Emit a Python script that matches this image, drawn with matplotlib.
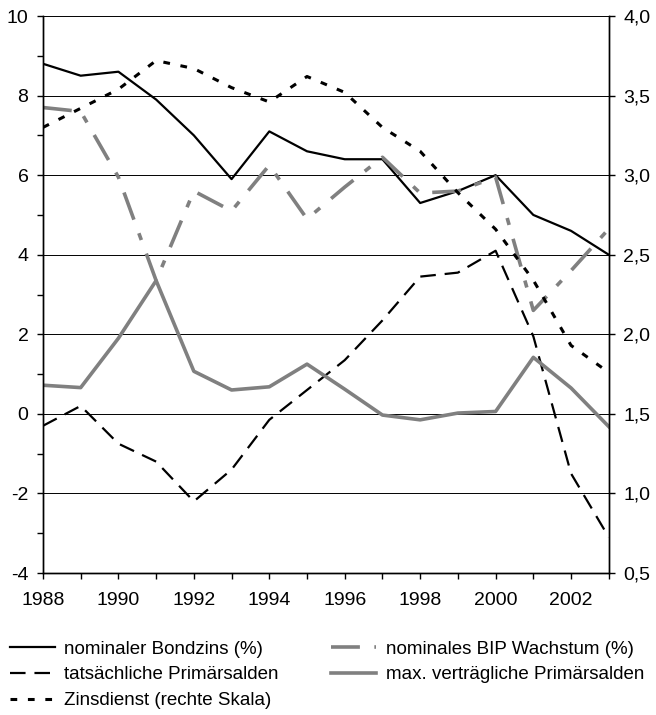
import numpy as np
import matplotlib.pyplot as plt
from matplotlib.ticker import MultipleLocator, FuncFormatter

# Daten
years = np.arange(1988, 2004)
bondzins = [8.8, 8.5, 8.6, 7.9, 7.0, 5.9, 7.1, 6.6, 6.4, 6.4, 5.3, 5.6, 6.0, 5.0, 4.6, 4.0]
bip_wachstum = [7.7, 7.6, 5.95, 3.35, 5.6, 5.1, 6.25, 4.9, 5.7, 6.45, 5.55, 5.6, 5.95, 2.6, 3.6, 4.65]
prim_tats = [-0.3, 0.2, -0.75, -1.2, -2.2, -1.4, -0.15, 0.6, 1.35, 2.35, 3.45, 3.55, 4.1, 1.95, -1.5, -3.1]
prim_max = [0.72, 0.66, 1.9, 3.35, 1.07, 0.6, 0.68, 1.25, 0.62, -0.03, -0.15, 0.02, 0.06, 1.42, 0.65, -0.32]
zinsdienst = [3.30, 3.42, 3.54, 3.72, 3.67, 3.55, 3.46, 3.62, 3.52, 3.30, 3.15, 2.89, 2.66, 2.34, 1.93, 1.76]

labels = ["nominaler Bondzins (%)", "nominales BIP Wachstum (%)",
          "tatsächliche Primärsalden", "max. verträgliche Primärsalden",
          "Zinsdienst (rechte Skala)"]

plt.rcParams['font.family'] = ['Liberation Sans', 'DejaVu Sans']
plt.rcParams['axes.unicode_minus'] = False

fig = plt.figure(figsize=(6.56, 7.15), dpi=100)
ax = fig.add_axes([0.0655, 0.1986, 0.8625, 0.779])
ax2 = ax.twinx()

grey = "#808080"
l1, = ax.plot(years, bondzins, color="black", lw=1.6)
l2, = ax.plot(years, bip_wachstum, color=grey, lw=2.6, dashes=(8, 4, 2, 4))
l3, = ax.plot(years, prim_tats, color="black", lw=1.6, dashes=(7, 4))
l4, = ax.plot(years, prim_max, color=grey, lw=2.6)
l5, = ax2.plot(years, zinsdienst, color="black", lw=2.2, dashes=(2.2, 3.5))

ax.set_xlim(1988, 2003)
ax.set_ylim(-4, 10)
ax2.set_ylim(0.5, 4.0)

ax.yaxis.set_major_locator(MultipleLocator(2))
ax.yaxis.set_minor_locator(MultipleLocator(1))
ax.xaxis.set_major_locator(MultipleLocator(2))
ax.xaxis.set_minor_locator(MultipleLocator(1))
ax2.yaxis.set_major_locator(MultipleLocator(0.5))
ax2.yaxis.set_major_formatter(FuncFormatter(lambda v, p: f"{v:.1f}".replace(".", ",")))

for a in (ax, ax2):
    a.tick_params(which="both", direction="out", labelsize=14, width=1,
                  length=4.5, color="black")
    a.tick_params(axis="y", which="both", pad=6)
    for s in a.spines.values():
        s.set_linewidth(1.0)
    a.spines["top"].set_visible(False)
ax.tick_params(axis="x", which="both", pad=9)

ax.grid(axis="y", which="major", color="black", lw=0.7)
ax.set_axisbelow(True)

# Legende unter dem Diagramm, zwei Spalten
fig.legend([l1, l3, l5, l2, l4],
           [labels[0], labels[2], labels[4], labels[1], labels[3]],
           ncol=2, loc="upper left", bbox_to_anchor=(0.004, 0.1147),
           frameon=False, fontsize=13.5, handlelength=2.4, handletextpad=0.5,
           labelspacing=0.46, columnspacing=2.8, borderaxespad=0.0)

fig.savefig("out.png", dpi=100)
